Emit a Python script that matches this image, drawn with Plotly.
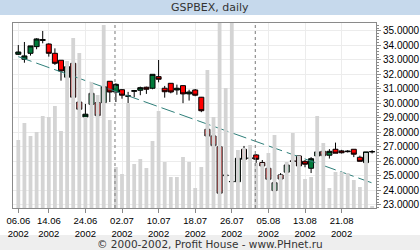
import plotly.graph_objects as go

# ---------------- data ----------------
dates = ["06.06","07.06","10.06","11.06","13.06","14.06","17.06","18.06","19.06","20.06","21.06",
         "24.06","25.06","26.06","27.06","28.06","01.07","02.07","03.07","04.07","05.07","08.07",
         "09.07","10.07","11.07","12.07","15.07","16.07","17.07","18.07","19.07","22.07","23.07",
         "24.07","25.07","26.07","29.07","30.07","31.07","01.08","02.08","05.08","06.08","07.08",
         "08.08","09.08","12.08","13.08","14.08","15.08","16.08","19.08","20.08","21.08","22.08",
         "23.08","26.08","27.08","28.08"]
year = "2002"

opens  = [33.39,33.05,33.46,33.92,34.35,34.10,33.46,32.98,31.81,32.77,30.10,29.07,29.94,30.06,30.06,
          31.53,30.79,30.95,30.50,30.84,30.91,31.12,31.05,31.85,31.05,31.39,30.93,31.23,30.66,30.93,
          30.43,28.22,27.76,27.02,25.02,24.60,24.60,26.84,26.24,26.45,25.92,25.53,23.99,25.07,25.26,
          26.05,26.38,26.01,25.53,26.38,26.70,26.43,26.84,26.73,26.72,26.84,26.29,25.92,26.66]
highs  = [34.03,34.24,33.97,34.50,35.00,34.15,33.80,32.98,32.59,32.81,30.10,29.97,30.86,30.24,31.48,
          31.53,31.39,31.00,30.80,30.93,31.16,31.16,32.01,33.00,31.21,31.40,31.30,31.25,30.95,31.00,
          30.45,28.80,27.90,27.02,25.88,25.07,26.50,27.07,26.30,26.50,26.10,25.70,24.60,25.20,25.90,
          26.20,26.38,26.10,26.30,26.90,26.80,26.85,27.30,26.80,26.78,26.84,26.40,26.66,26.78]
lows   = [33.34,32.81,33.30,33.74,34.15,33.23,32.66,31.57,31.71,30.31,27.99,28.63,29.41,28.12,29.83,
          30.10,30.10,30.33,29.23,30.43,30.57,30.66,30.98,31.46,30.40,30.70,30.60,30.02,30.20,30.50,
          29.40,27.30,26.90,23.50,24.26,23.23,24.55,25.60,26.15,25.90,25.20,24.30,23.34,24.50,25.00,
          25.80,25.60,25.60,25.20,26.10,26.10,26.20,26.57,26.55,26.62,26.30,26.01,25.85,26.55]
closes = [33.55,33.28,33.97,34.45,34.40,33.46,32.77,32.24,32.54,30.43,29.60,29.26,30.70,29.16,31.16,
          30.79,31.32,30.57,30.52,30.88,31.09,30.98,32.01,31.67,30.81,30.79,31.05,30.66,30.79,30.57,
          29.50,27.76,27.09,23.81,25.05,24.62,26.22,26.15,26.22,26.15,25.69,24.77,24.54,24.79,25.76,
          26.00,25.69,25.81,26.19,26.66,26.40,26.70,26.57,26.60,26.68,26.50,26.01,26.66,26.68]
volumes = [68,85,72,76,92,91,102,77,147,170,155,91,126,113,183,88,41,34,105,44,49,40,67,97,46,31,31,
           51,46,20,41,138,91,200,120,200,58,60,63,45,45,55,73,33,46,75,52,29,31,92,65,20,36,36,35,
           28,21,55,2]

tick_dates = ["06.06","14.06","24.06","02.07","10.07","18.07","26.07","05.08","13.08","21.08"]
trend_start, trend_end = 33.23, 24.52
y_ticks = [23, 24, 25, 26, 27, 28, 29, 30, 31, 32, 33, 34, 35]

title_text = "GSPBEX, daily"
footer_text = "© 2000-2002, Profit House - www.PHnet.ru"

# ---------------- figure ----------------
idx = list(range(len(dates)))
W, H = 420, 250
ml, mr, mt, mb = 13, 44, 23, 42
pw, ph = W - ml - mr, H - mt - mb

fig = go.Figure()

fig.add_trace(go.Bar(x=idx, y=volumes, yaxis="y2", marker=dict(color="#d4d4d4", line=dict(width=0)),
                     width=0.62, showlegend=False, hoverinfo="skip"))

# month separators
month_x = [i - 0.15 for i in idx[1:] if dates[i][3:] != dates[i - 1][3:]]
for mx in month_x:
    fig.add_trace(go.Scatter(x=[mx, mx], y=[0, 1000], mode="lines", yaxis="y2",
                             line=dict(color="#7a7a7a", width=1, dash="3px,3px"),
                             showlegend=False, hoverinfo="skip"))

fig.add_trace(go.Scatter(x=[idx[0], idx[-1]], y=[trend_start, trend_end], mode="lines",
                         line=dict(color="#2f7f7a", width=1, dash="14px,5px"),
                         showlegend=False, hoverinfo="skip"))

fig.add_trace(go.Candlestick(x=idx, open=opens, high=highs, low=lows, close=closes,
                             increasing=dict(fillcolor="#007a3a", line=dict(color="#000000", width=1)),
                             decreasing=dict(fillcolor="#ff0000", line=dict(color="#000000", width=1)),
                             whiskerwidth=0, showlegend=False))

tickvals = [dates.index(d) for d in tick_dates]
ticktext = [f"{d}<br>{year}" for d in tick_dates]

fig.update_layout(
    width=W, height=H, margin=dict(l=ml, r=mr, t=mt, b=mb, pad=0, autoexpand=False),
    paper_bgcolor="white", plot_bgcolor="white", showlegend=False,
    boxgap=0.18, boxgroupgap=0,
    font=dict(family="Liberation Sans, Arial", size=10, color="#000000"),
    xaxis=dict(range=[-0.87, 58.64], tickmode="array", tickvals=tickvals, ticktext=ticktext,
               showgrid=True, gridcolor="#ececec", gridwidth=1, zeroline=False,
               showline=True, linecolor="#8a8a8a", linewidth=1, mirror=True,
               ticks="outside", ticklen=4, tickcolor="#8a8a8a", tickangle=0, automargin=False,
               rangeslider=dict(visible=False), fixedrange=True,
               tickfont=dict(size=9.5)),
    yaxis=dict(side="right", range=[22.79, 35.55], tickmode="array", tickvals=y_ticks,
               ticktext=[f"{v:.4f}" for v in y_ticks], automargin=False,
               showgrid=True, gridcolor="#ececec", gridwidth=1, zeroline=False,
               showline=True, linecolor="#8a8a8a", linewidth=1, mirror=True,
               ticks="outside", ticklen=4, tickcolor="#8a8a8a",
               minor=dict(ticks="outside", ticklen=2, dtick=0.2, tickcolor="#8a8a8a", showgrid=False),
               tickfont=dict(size=10)),
    yaxis2=dict(overlaying="y", range=[0, ph], visible=False, fixedrange=True),
)

# title band and footer band
fig.add_shape(type="rect", xref="paper", yref="paper", x0=-ml / pw, x1=1 + mr / pw,
              y0=1 + (mt - 15) / ph, y1=1 + mt / ph, fillcolor="#c6d9ec", line=dict(width=0), layer="below")
fig.add_shape(type="rect", xref="paper", yref="paper", x0=-ml / pw, x1=1 + mr / pw,
              y0=-mb / ph, y1=-(235 - (mt + ph)) / ph, fillcolor="#eeeeee", line=dict(width=0), layer="below")

fig.add_annotation(text=title_text, xref="paper", yref="paper", x=(W / 2 - ml) / pw,
                   y=1 + (mt - 7.5) / ph, showarrow=False, xanchor="center", yanchor="middle",
                   font=dict(family="DejaVu Sans", size=11, color="#333333"))
fig.add_annotation(text=footer_text, xref="paper", yref="paper", x=(W / 2 - ml) / pw,
                   y=-(243.5 - (mt + ph)) / ph, showarrow=False, xanchor="center", yanchor="middle",
                   font=dict(family="DejaVu Sans", size=10.5, color="#333333"))

fig.write_html("out.html")
